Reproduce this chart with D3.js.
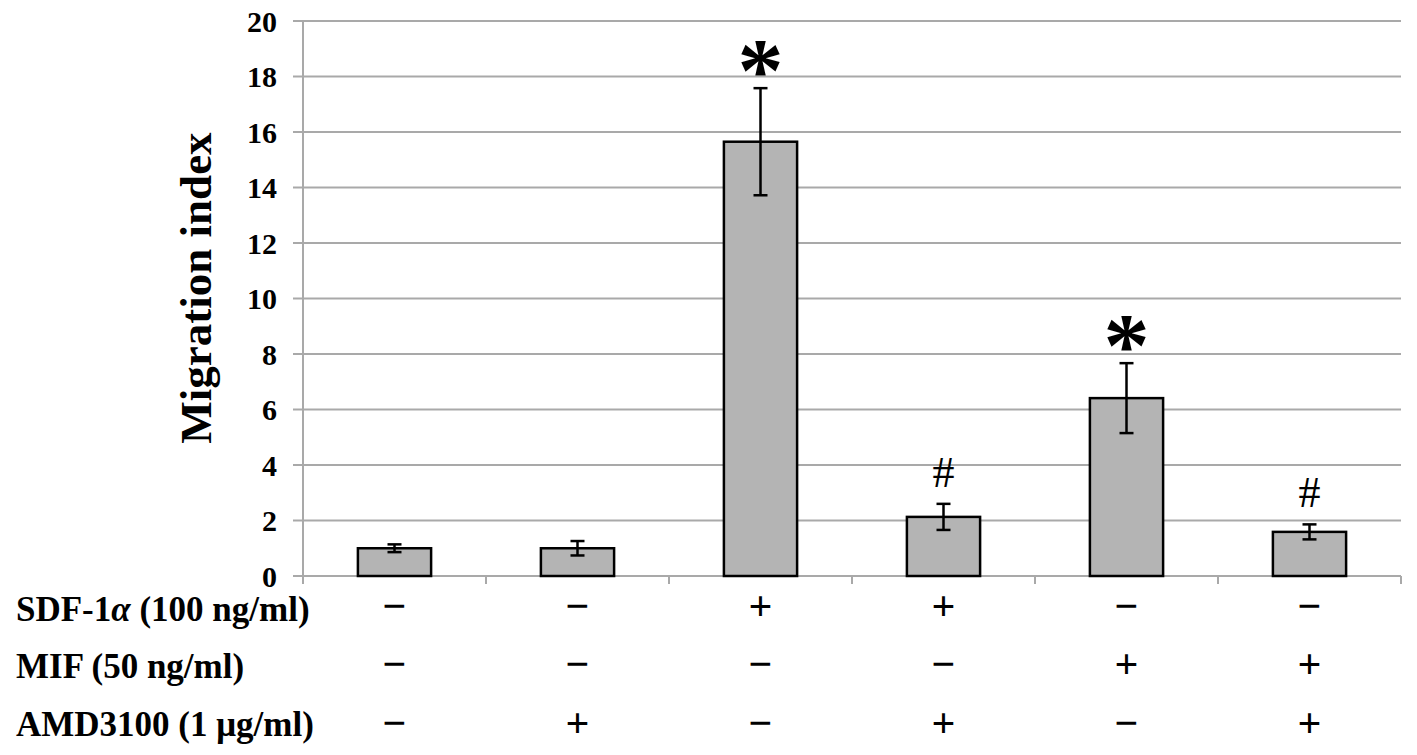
<!DOCTYPE html>
<html>
<head>
<meta charset="utf-8">
<script src="https://cdn.jsdelivr.net/npm/d3@7"></script>
<style>
  body { margin: 0; background: #fff; }
  svg text { font-family: "Liberation Serif", "Times New Roman", serif; }
</style>
</head>
<body>
<svg id="chart" width="1417" height="755"></svg>
<script>
// data
const groups = ["g1", "g2", "g3", "g4", "g5", "g6"]
const means = [1.0, 1.0, 15.65, 2.13, 6.41, 1.59]
const errs = [0.14, 0.26, 1.93, 0.47, 1.26, 0.27]
const marks = ["", "", "*", "#", "*", "#"]
const yTicks = [0, 2, 4, 6, 8, 10, 12, 14, 16, 18, 20]
const rowLabels = ["SDF-1α (100 ng/ml)", "MIF (50 ng/ml)", "AMD3100 (1 μg/ml)"]
const sdf = ["−", "−", "+", "+", "−", "−"]
const mif = ["−", "−", "−", "−", "+", "+"]
const amd = ["−", "+", "−", "+", "−", "+"]

const svg = d3.select("#chart")
const g = svg.append("g")

const x = d3.scaleBand().domain(groups).range([303, 1401]).paddingInner(0.6).paddingOuter(0.3)
const y = d3.scaleLinear().domain([0, 20]).range([576, 21])

const gridColor = "#a9a9a9"

// ink bounds of a glyph, used to sit the marks just above the error bars
const ctx = document.createElement("canvas").getContext("2d")
function inkBottom(txt, font) {
  ctx.font = font
  return ctx.measureText(txt).actualBoundingBoxDescent
}

// gridlines
g.selectAll(".grid").data(yTicks).enter().append("line")
  .attr("x1", 293).attr("x2", 1401)
  .attr("y1", d => y(d)).attr("y2", d => y(d))
  .attr("stroke", gridColor).attr("stroke-width", 2)

// y axis line
g.append("line")
  .attr("x1", 303).attr("x2", 303)
  .attr("y1", y(20)).attr("y2", y(0))
  .attr("stroke", gridColor).attr("stroke-width", 2)

// x axis ticks at category boundaries
const step = x.step()
const bounds = d3.range(groups.length + 1).map(i => 303 + i * step)
g.selectAll(".xtick").data(bounds).enter().append("line")
  .attr("x1", d => d).attr("x2", d => d)
  .attr("y1", y(0)).attr("y2", y(0) + 8)
  .attr("stroke", gridColor).attr("stroke-width", 2)

// y tick labels
g.selectAll(".ylab").data(yTicks).enter().append("text")
  .attr("x", 277).attr("y", d => y(d))
  .attr("dy", "0.35em")
  .attr("text-anchor", "end")
  .attr("font-size", "30px").attr("font-weight", "bold")
  .text(d => d)

// y title
g.append("text")
  .attr("transform", "translate(211,288) rotate(-90)")
  .attr("text-anchor", "middle")
  .attr("font-size", "45px").attr("font-weight", "bold")
  .text("Migration index")

// bars
g.selectAll(".bar").data(means).enter().append("rect")
  .attr("x", (d, i) => x(groups[i]))
  .attr("y", d => y(d))
  .attr("width", x.bandwidth())
  .attr("height", d => y(0) - y(d))
  .attr("fill", "#b4b4b4")
  .attr("stroke", "#000").attr("stroke-width", 2.5)

// error bars
means.forEach((m, i) => {
  const cx = x(groups[i]) + x.bandwidth() / 2
  const top = y(m + errs[i]), bot = y(m - errs[i])
  g.append("line").attr("x1", cx).attr("x2", cx).attr("y1", top).attr("y2", bot)
    .attr("stroke", "#000").attr("stroke-width", 2.5)
  ;[top, bot].forEach(yy => {
    g.append("line").attr("x1", cx - 7).attr("x2", cx + 7).attr("y1", yy).attr("y2", yy)
      .attr("stroke", "#000").attr("stroke-width", 2.5)
  })
})

// significance marks
const starFont = "bold 92px 'Liberation Serif'"
const hashFont = "44px 'Liberation Serif'"
marks.forEach((mk, i) => {
  if (!mk) return
  const cx = x(groups[i]) + x.bandwidth() / 2
  const top = y(means[i] + errs[i])
  if (mk === "*") {
    // descent is negative for a glyph that floats above the baseline
    const off = inkBottom("*", starFont)
    g.append("text").attr("x", cx).attr("y", top - 12 - off)
      .attr("text-anchor", "middle")
      .attr("font-size", "92px").attr("font-weight", "bold")
      .text(mk)
  } else {
    const off = inkBottom("#", hashFont)
    g.append("text").attr("x", cx).attr("y", top - 17 - off)
      .attr("text-anchor", "middle")
      .attr("font-size", "44px")
      .text(mk)
  }
})

// treatment rows
const rows = [sdf, mif, amd]
const rowSignY = [605, 663, 722]
const rowBase = [621, 678, 736]
rowLabels.forEach((lab, r) => {
  const t = g.append("text").attr("x", 16).attr("y", rowBase[r])
    .attr("font-size", "35px").attr("font-weight", "bold")
  if (r === 0) {
    t.append("tspan").text("SDF-1")
    t.append("tspan").attr("font-style", "italic").text("α")
    t.append("tspan").text(" (100 ng/ml)")
  } else {
    t.text(lab)
  }
  g.selectAll(".sign" + r).data(rows[r]).enter().append("text")
    .attr("x", (d, i) => x(groups[i]) + x.bandwidth() / 2)
    .attr("y", rowSignY[r])
    .attr("dy", "0.35em")
    .attr("text-anchor", "middle")
    .attr("font-family", "Liberation Sans, Arial, sans-serif")
    .attr("font-size", "42px").attr("font-weight", "bold")
    .text(d => d)
})
</script>
</body>
</html>
